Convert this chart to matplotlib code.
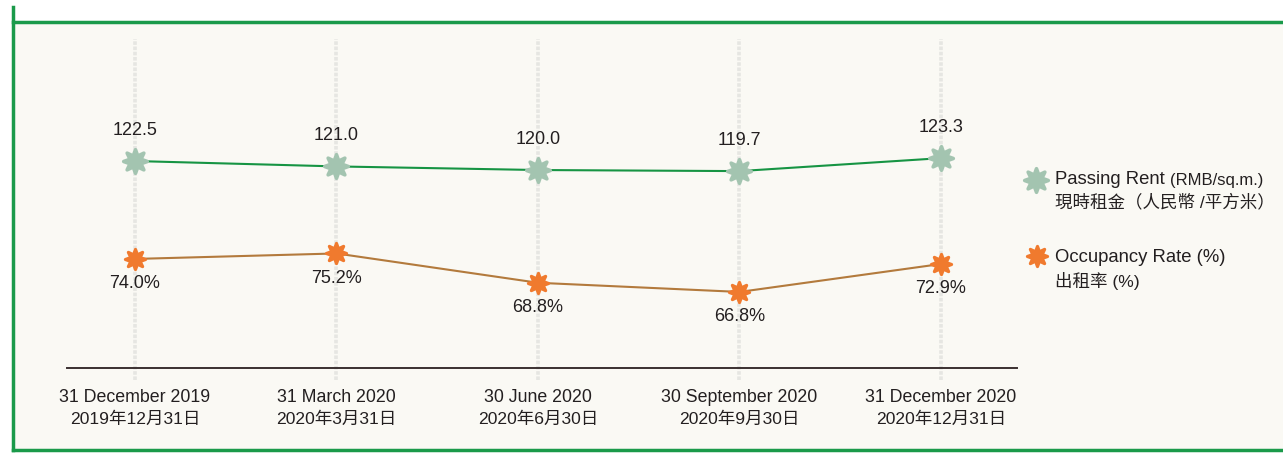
import matplotlib.pyplot as plt
from matplotlib.markers import MarkerStyle
from matplotlib.lines import Line2D
from matplotlib.patches import Rectangle

plt.rcParams['font.family'] = ['Liberation Sans', 'Noto Sans CJK TC']

# quarter-end dates
dates_en = ['31 December 2019', '31 March 2020', '30 June 2020',
            '30 September 2020', '31 December 2020']
dates_zh = ['2019年12月31日', '2020年3月31日', '2020年6月30日',
            '2020年9月30日', '2020年12月31日']
passing_rent = [122.5, 121.0, 120.0, 119.7, 123.3]
occupancy = [74.0, 75.2, 68.8, 66.8, 72.9]

W, H = 1283, 456
fig = plt.figure(figsize=(W / 100, H / 100), dpi=100)
fig.patch.set_facecolor('white')

def fx(px):
    return px / W

def fy(py):
    return 1 - py / H

# cream panel with green frame
fig.add_artist(Rectangle((fx(13), fy(451)), 1 - fx(13), fy(23) - fy(451),
                         transform=fig.transFigure, facecolor='#faf9f4',
                         edgecolor='none', zorder=0))
green = '#1a9a4a'
fig.add_artist(Line2D([fx(13), 1.0], [fy(23), fy(23)], color=green, lw=2.5,
                      transform=fig.transFigure))
fig.add_artist(Line2D([fx(13), fx(13)], [fy(8), fy(451)], color=green, lw=2.5,
                      transform=fig.transFigure))
fig.add_artist(Line2D([fx(13), 1.0], [fy(451), fy(451)], color=green, lw=2.5,
                      transform=fig.transFigure))

# plotting area: x from 67 to 1017 px, y from 40 to 369 px
left, right, top, bottom = 67, 1017, 40, 369
rect = [fx(left), fy(bottom), fx(right) - fx(left), fy(top) - fy(bottom)]
ax = fig.add_axes(rect)
ax2 = fig.add_axes(rect, sharex=ax)
for a in (ax, ax2):
    a.set_facecolor('none')
    for s in a.spines.values():
        s.set_visible(False)
    a.tick_params(left=False, labelleft=False, bottom=False, labelbottom=False)

x = list(range(len(dates_en)))
ax.set_xlim(-0.337, 4.377)
ax.set_ylim(65.0, 156.4)
ax2.set_ylim(50.2, 122.0)

# faint vertical guides
for xi in x:
    ax.axvline(xi, ymin=-0.035, ymax=1.0, color='#e6e6e2', lw=2.6,
               ls=(0, (1.0, 0.45)), clip_on=False, zorder=1)

ax.spines['bottom'].set_visible(True)
ax.spines['bottom'].set_color('#3a3030')
ax.spines['bottom'].set_linewidth(1.4)

star = MarkerStyle((8, 1, 0), joinstyle='round')

ax.plot(x, passing_rent, color='#169443', lw=1.5, zorder=3)
ax.plot(x, passing_rent, ls='none', marker=star, markersize=17,
        mew=2.6, color='#a3c4b0', zorder=4)
ax2.plot(x, occupancy, color='#b37a3c', lw=1.5, zorder=3)
ax2.plot(x, occupancy, ls='none', marker=star, markersize=14.5,
         mew=2.3, color='#f07a2e', zorder=4)

txt = '#231f20'
for xi, v in zip(x, passing_rent):
    ax.annotate(f'{v:.1f}', (xi, v), xytext=(0, 23), textcoords='offset points',
                ha='center', va='center', fontsize=13, color=txt)
for xi, v in zip(x, occupancy):
    ax2.annotate(f'{v:.1f}%', (xi, v), xytext=(0, -17), textcoords='offset points',
                 ha='center', va='center', fontsize=13, color=txt)

# two-line date labels under the axis
for xi, en, zh in zip(x, dates_en, dates_zh):
    ax.annotate(en, (xi, 0), xycoords=('data', 'axes fraction'), xytext=(0, -20.5),
                textcoords='offset points', ha='center', va='center',
                fontsize=12.8, color=txt)
    ax.annotate(zh, (xi, 0), xycoords=('data', 'axes fraction'), xytext=(0, -36),
                textcoords='offset points', ha='center', va='center',
                fontsize=12.6, color=txt)

# legend
fig.add_artist(Line2D([fx(1036)], [fy(181)], ls='none', marker=star,
                      markersize=17, mew=2.6, color='#a3c4b0',
                      transform=fig.transFigure))
fig.text(fx(1055), fy(180), 'Passing Rent', fontsize=13.3, color=txt,
         va='center', ha='left')
fig.text(fx(1170), fy(180), '(RMB/sq.m.)', fontsize=12, color=txt,
         va='center', ha='left')
fig.text(fx(1055), fy(202), '現時租金（人民幣 /平方米）', fontsize=12.6,
         color=txt, va='center', ha='left')

fig.add_artist(Line2D([fx(1037)], [fy(257)], ls='none', marker=star,
                      markersize=14.5, mew=2.3, color='#f07a2e',
                      transform=fig.transFigure))
fig.text(fx(1055), fy(257), 'Occupancy Rate (%)', fontsize=13.3, color=txt,
         va='center', ha='left')
fig.text(fx(1055), fy(281), '出租率 (%)', fontsize=12.6, color=txt,
         va='center', ha='left')

fig.savefig('out.png', dpi=100, facecolor=fig.get_facecolor())
